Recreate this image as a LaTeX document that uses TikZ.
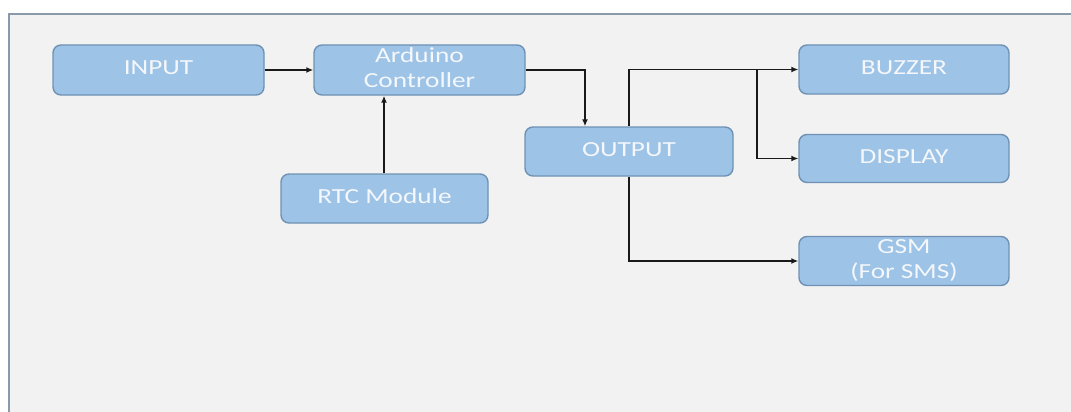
\documentclass[tikz,border=0pt]{standalone}
\usepackage{fontspec}
\usepackage{graphicx}
\setmainfont{Carlito}
\usetikzlibrary{arrows.meta}
\definecolor{bg}{HTML}{F2F2F2}
\definecolor{frameline}{HTML}{8A9AAA}
\definecolor{boxfill}{HTML}{9DC3E6}
\definecolor{boxline}{HTML}{6F92B4}
\definecolor{txt}{HTML}{F4F7FB}
\newcommand{\lbl}[1]{\scalebox{1.27}[1]{\begin{tabular}{@{}c@{}}#1\end{tabular}}}
\tikzset{
  blk/.style={draw=boxline, fill=boxfill, line width=1.4pt, rounded corners=8pt,
    inner sep=0pt, text=txt, font=\fontsize{21.5}{24}\selectfont,
    minimum width=#1, minimum height=50pt},
  blk/.default=210pt,
  conn/.style={draw=black!90, line width=1.4pt, -{Latex[length=7pt,width=6pt]}},
}
\begin{document}
\begin{tikzpicture}[x=1pt,y=-1pt]
\useasboundingbox (0,0) rectangle (1071,412);
\fill[white] (0,0) rectangle (1071,412);
\fill[bg] (9,14) rectangle (1071,412);
\draw[frameline, line width=1.8pt] (9,413) -- (9,14) -- (1072,14);

\node[blk=211pt] (input) at (158.5,70) {\lbl{INPUT}};
\node[blk=211pt] (ard) at (419.5,70) {\lbl{Arduino\\[1pt]Controller}};
\node[blk=207pt, minimum height=49pt] (rtc) at (384.5,198.5) {\lbl{RTC Module}};
\node[blk=208pt, minimum height=49pt] (out) at (629,151.5) {\lbl{OUTPUT}};
\node[blk=210pt, minimum height=49pt] (buz) at (904,69.5) {\lbl{BUZZER}};
\node[blk=210pt, minimum height=48pt] (disp) at (904,158.5) {\lbl{DISPLAY}};
\node[blk=210pt, minimum height=48pt] (gsm) at (904,261) {\lbl{GSM\\[1pt](For SMS)}};

\coordinate (br) at (757,70);

\draw[conn] (input.east) -- (ard.west);
\draw[conn] (ard.east) -| (585,0 |- out.north);
\draw[conn] (rtc.north -| 384,0) -- (ard.south -| 384,0);
\draw[conn] (out.north) |- (buz.west);
\draw[conn] (br) |- (disp.west);
\draw[conn] (out.south) |- (gsm.west);
\end{tikzpicture}
\end{document}
